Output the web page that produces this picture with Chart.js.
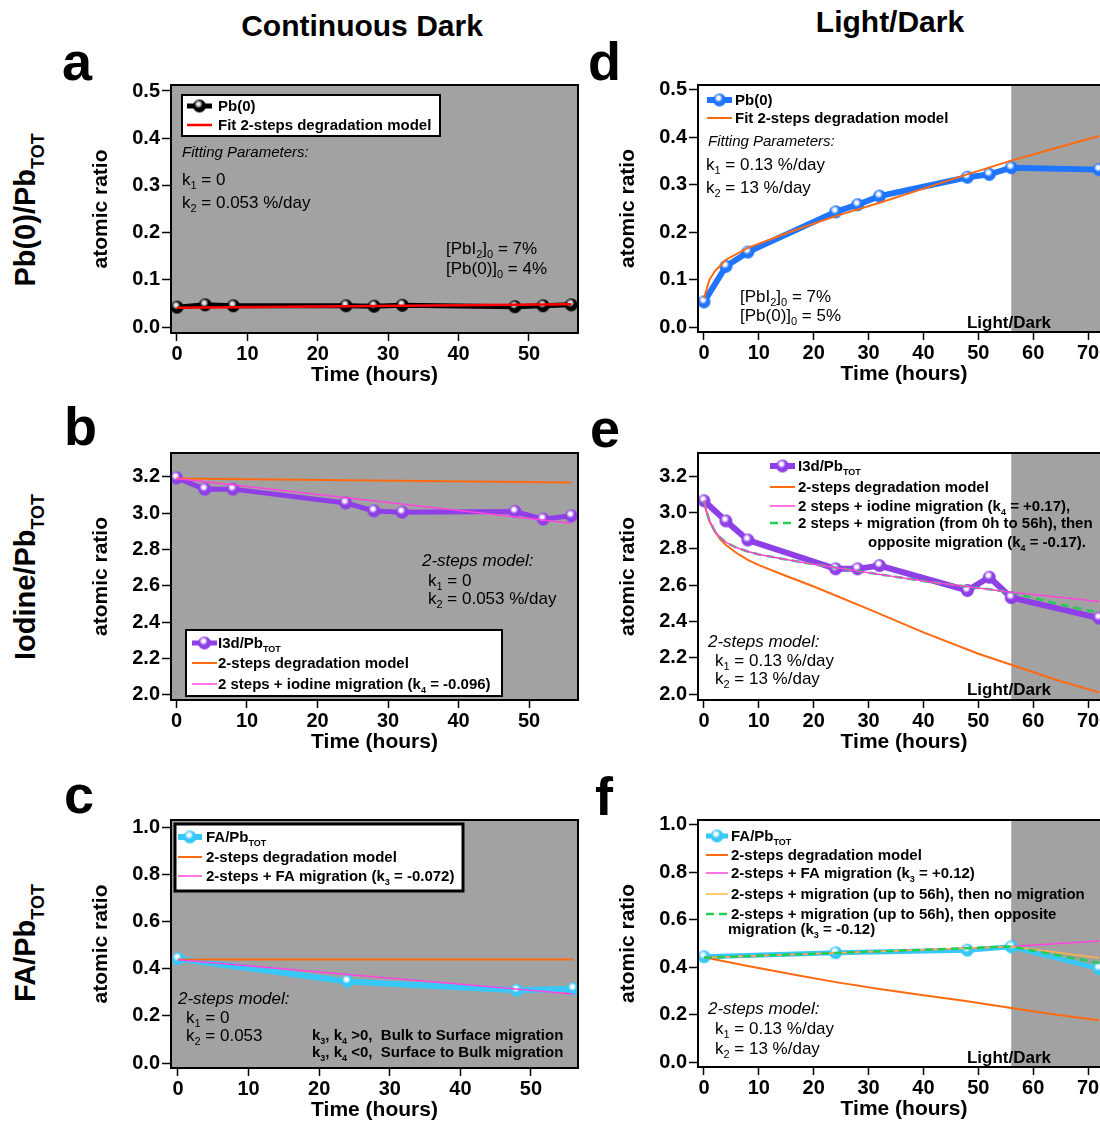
<!DOCTYPE html>
<html>
<head>
<meta charset="utf-8">
<script src="https://cdn.jsdelivr.net/npm/chart.js@4.4.1/dist/chart.umd.min.js"></script>
<style>
html, body { margin: 0; padding: 0; background: #fff; overflow: hidden; }
#page { position: relative; width: 1100px; height: 1124px; overflow: hidden; font-family: "Liberation Sans", Arial, Helvetica, sans-serif; color: #000; }
.panel { position: absolute; }
.lbl { position: absolute; font-weight: bold; white-space: nowrap; line-height: 1; }
.head { font-size: 30px; transform: translateX(-50%); }
.letter { font-size: 54px; }
.row { font-size: 29px; transform: translate(-50%, -50%) rotate(-90deg); }
.row sub { font-size: 62%; vertical-align: -0.55em; line-height: 0; }
</style>
</head>
<body>
<div id="page">
  <div class="lbl head" style="left:362px;top:11px">Continuous Dark</div>
  <div class="lbl head" style="left:890px;top:7px">Light/Dark</div>
  <div class="lbl letter" style="left:62px;top:34px">a</div>
  <div class="lbl letter" style="left:588px;top:34px">d</div>
  <div class="lbl letter" style="left:64px;top:399px">b</div>
  <div class="lbl letter" style="left:590px;top:401px">e</div>
  <div class="lbl letter" style="left:64px;top:767px">c</div>
  <div class="lbl letter" style="left:595px;top:769px">f</div>
  <div class="lbl row" style="left:25px;top:210px">Pb(0)/Pb<sub>TOT</sub></div>
  <div class="lbl row" style="left:25px;top:577px">Iodine/Pb<sub>TOT</sub></div>
  <div class="lbl row" style="left:25px;top:943px">FA/Pb<sub>TOT</sub></div>
</div>
<script>
var FONT = '"Liberation Sans", Arial, Helvetica, sans-serif';
var GRAY = '#a2a2a2';

// tick values
var X_TICKS_DARK = [0, 10, 20, 30, 40, 50];
var X_TICKS_LD = [0, 10, 20, 30, 40, 50, 60, 70];
var Y_TICKS_PB = [0, 0.1, 0.2, 0.3, 0.4, 0.5];
var Y_TICKS_I = [2.0, 2.2, 2.4, 2.6, 2.8, 3.0, 3.2];
var Y_TICKS_FA = [0, 0.2, 0.4, 0.6, 0.8, 1.0];

// a: Pb(0), continuous dark
var TIME_A = [0, 4, 8, 24, 28, 32, 48, 52, 56];
var PB0_DARK = [0.042, 0.047, 0.045, 0.045, 0.044, 0.046, 0.043, 0.045, 0.047];
var FIT_TIME_A = [0, 56];
var PB0_DARK_FIT = [0.041, 0.048];

// b: I3d/Pb, continuous dark
var TIME_B = [0, 4, 8, 24, 28, 32, 48, 52, 56];
var I3D_DARK = [3.195, 3.133, 3.133, 3.057, 3.013, 3.006, 3.010, 2.968, 2.986];
var FIT_TIME_B = [0, 56];
var I3D_DARK_DEG = [3.192, 3.170];
var I3D_DARK_MIG = [3.192, 2.945];

// c: FA/Pb, continuous dark
var TIME_C = [0, 24, 48, 56];
var FA_DARK = [0.442, 0.346, 0.308, 0.315];
var FIT_TIME_C = [0, 56];
var FA_DARK_DEG = [0.439, 0.439];
var FA_DARK_MIG = [0.438, 0.293];

// d: Pb(0), light/dark
var TIME_D = [0, 4, 8, 24, 28, 32, 48, 52, 56, 72];
var PB0_LD = [0.053, 0.128, 0.158, 0.243, 0.258, 0.276, 0.316, 0.322, 0.336, 0.332];
var FIT_TIME_D = [0, 1, 2, 4, 8, 16, 24, 32, 40, 48, 56, 64, 72];
var PB0_LD_FIT = [0.061, 0.100, 0.118, 0.142, 0.167, 0.202, 0.234, 0.262, 0.292, 0.322, 0.351, 0.377, 0.403];

// e: I3d/Pb, light/dark
var TIME_E = [0, 4, 8, 24, 28, 32, 48, 52, 56, 72];
var I3D_LD = [3.064, 2.953, 2.848, 2.689, 2.689, 2.707, 2.570, 2.643, 2.531, 2.418];
var FIT_TIME_E = [0, 0.5, 1, 2, 3, 4, 6, 8, 10, 15, 20, 30, 40, 50, 56, 64, 72];
var I3D_LD_DEG = [3.064, 3.000, 2.950, 2.895, 2.850, 2.820, 2.775, 2.738, 2.710, 2.650, 2.592, 2.467, 2.339, 2.222, 2.161, 2.080, 2.009];
var I3D_LD_MIG = [3.064, 3.000, 2.955, 2.895, 2.860, 2.835, 2.805, 2.785, 2.768, 2.740, 2.715, 2.668, 2.622, 2.584, 2.560, 2.535, 2.510];
var I3D_LD_OPP = [3.064, 3.000, 2.955, 2.895, 2.860, 2.835, 2.805, 2.785, 2.768, 2.740, 2.715, 2.668, 2.622, 2.584, 2.560, 2.500, 2.447];

// f: FA/Pb, light/dark
var TIME_F = [0, 24, 48, 56, 72];
var FA_LD = [0.444, 0.461, 0.472, 0.486, 0.394];
var FIT_TIME_F = [0, 8, 16, 24, 32, 40, 48, 56, 64, 72];
var FA_LD_DEG = [0.442, 0.405, 0.370, 0.337, 0.308, 0.282, 0.256, 0.228, 0.200, 0.176];
var MIG_TIME_F = [0, 56, 72];
var FA_LD_MIG = [0.440, 0.487, 0.511];
var FA_LD_NOMIG = [0.440, 0.487, 0.439];
var FA_LD_OPP = [0.440, 0.487, 0.418];

function pts(xs, ys) {
  return xs.map(function (x, i) { return { x: x, y: ys[i] }; });
}

function makeSphere(color, glow, r) {
  var s = Math.ceil(r * 2) + 2;
  var c = document.createElement('canvas');
  c.width = s; c.height = s;
  var g = c.getContext('2d');
  var m = s / 2;
  g.beginPath(); g.arc(m, m, r, 0, Math.PI * 2);
  g.fillStyle = color; g.fill();
  var hx = m - r * 0.15, hy = m - r * 0.3;
  var grd = g.createRadialGradient(hx, hy, 0, hx, hy, r * 0.65);
  grd.addColorStop(0, glow);
  grd.addColorStop(0.35, glow);
  grd.addColorStop(1, 'rgba(255,255,255,0)');
  g.beginPath(); g.arc(m, m, r, 0, Math.PI * 2);
  g.fillStyle = grd; g.fill();
  return c;
}

function markerSet(label, xs, ys, color, glow, width) {
  return {
    label: label, data: pts(xs, ys), borderColor: color, backgroundColor: color,
    borderWidth: width, pointStyle: makeSphere(color, glow, 6.5), pointRadius: 7, order: 9,
  };
}

function lineSet(label, xs, ys, color, width, order, dash) {
  return {
    label: label, data: pts(xs, ys), borderColor: color, borderWidth: width,
    borderDash: dash || [], pointRadius: 0, order: order,
  };
}

// text with _{subscript} markup, y is the visual middle of capitals
function drawRich(ctx, str, x, y, size, style, align) {
  var parts = str.split(/(_\{[^}]*\})/).filter(function (p) { return p; });
  var base = y + size * 0.36;
  function fontOf(sub) { return style + ' ' + (sub ? Math.round(size * 0.62) : size) + 'px ' + FONT; }
  var w = 0;
  parts.forEach(function (p) {
    var sub = p.indexOf('_{') === 0;
    ctx.font = fontOf(sub);
    w += ctx.measureText(sub ? p.slice(2, -1) : p).width;
  });
  var cx = align === 'center' ? x - w / 2 : x;
  ctx.textAlign = 'left';
  ctx.textBaseline = 'alphabetic';
  parts.forEach(function (p) {
    var sub = p.indexOf('_{') === 0;
    var t = sub ? p.slice(2, -1) : p;
    ctx.font = fontOf(sub);
    ctx.fillText(t, cx, sub ? base + size * 0.24 : base);
    cx += ctx.measureText(t).width;
  });
}

function decor(cfg, ox, oy) {
  return {
    id: 'decor',
    beforeDatasetsDraw: function (chart) {
      var ctx = chart.ctx, a = chart.chartArea;
      var x0 = cfg.shadeFrom == null ? a.left : chart.scales.x.getPixelForValue(cfg.shadeFrom);
      ctx.save();
      ctx.fillStyle = GRAY;
      ctx.fillRect(x0, a.top, a.right - x0, a.bottom - a.top);
      ctx.restore();
    },
    afterDraw: function (chart) {
      var ctx = chart.ctx, a = chart.chartArea, lg = cfg.legend;
      ctx.save();
      ctx.strokeStyle = '#000';
      ctx.lineWidth = 2;
      ctx.strokeRect(a.left, a.top, a.right - a.left, a.bottom - a.top);
      ctx.translate(-ox, -oy);
      if (lg.box) {
        var b = lg.box;
        ctx.fillStyle = '#fff';
        ctx.fillRect(b[0], b[1], b[2] - b[0], b[3] - b[1]);
        ctx.lineWidth = lg.border;
        ctx.strokeRect(b[0], b[1], b[2] - b[0], b[3] - b[1]);
      }
      lg.rows.forEach(function (row) {
        var ds = chart.data.datasets[row.ds];
        ctx.strokeStyle = ds.borderColor;
        ctx.lineWidth = ds.borderWidth;
        ctx.setLineDash(ds.borderDash || []);
        ctx.beginPath();
        ctx.moveTo(lg.x0, row.y);
        ctx.lineTo(lg.x1, row.y);
        ctx.stroke();
        ctx.setLineDash([]);
        if (ds.pointStyle instanceof HTMLCanvasElement) {
          var im = ds.pointStyle;
          ctx.drawImage(im, (lg.x0 + lg.x1) / 2 - im.width / 2, row.y - im.height / 2);
        }
        var lines = ds.label.split('\n');
        ctx.fillStyle = '#000';
        drawRich(ctx, lines[0], lg.tx, row.y, 15, 'bold');
        if (lines[1]) drawRich(ctx, lines[1], row.x2, row.y2, 15, 'bold');
      });
      ctx.fillStyle = '#000';
      cfg.notes.forEach(function (n) {
        drawRich(ctx, n[0], n[1], n[2], n[4], n[3], n[5]);
      });
      ctx.restore();
    },
  };
}

var PANELS = [
  {
    plot: [171, 85, 578, 333], x: [-0.85, 56.96], y: [-0.0127, 0.5127],
    xTicks: X_TICKS_DARK, yTicks: Y_TICKS_PB, shadeFrom: null,
    datasets: [
      markerSet('Pb(0)', TIME_A, PB0_DARK, '#000000', '#e8e8e8', 5),
      lineSet('Fit 2-steps degradation model', FIT_TIME_A, PB0_DARK_FIT, '#ff0000', 2.5, 1),
    ],
    legend: { box: [182, 95, 440, 136], border: 2, x0: 187, x1: 212, tx: 218, rows: [{ ds: 0, y: 106 }, { ds: 1, y: 125 }] },
    notes: [
      ['Fitting Parameters:', 182, 152, 'italic', 15],
      ['k_{1} = 0', 182, 179, 'normal', 17],
      ['k_{2} = 0.053 %/day', 182, 202, 'normal', 17],
      ['[PbI_{2}]_{0} = 7%', 446, 248, 'normal', 17],
      ['[Pb(0)]_{0} = 4%', 446, 268, 'normal', 17],
    ],
  },
  {
    plot: [171, 453, 578, 700], x: [-0.78, 56.95], y: [1.972, 3.332],
    xTicks: X_TICKS_DARK, yTicks: Y_TICKS_I, shadeFrom: null,
    datasets: [
      markerSet('I3d/Pb_{TOT}', TIME_B, I3D_DARK, '#8e3fe6', '#ffffff', 5),
      lineSet('2-steps degradation model', FIT_TIME_B, I3D_DARK_DEG, '#ff6a10', 2, 2),
      lineSet('2 steps + iodine migration (k_{4} = -0.096)', FIT_TIME_B, I3D_DARK_MIG, '#ff44dd', 1.5, 1),
    ],
    legend: { box: [186, 630, 502, 696], border: 2, x0: 192, x1: 217, tx: 218, rows: [{ ds: 0, y: 643 }, { ds: 1, y: 663 }, { ds: 2, y: 684 }] },
    notes: [
      ['2-steps model:', 422, 560, 'italic', 17],
      ['k_{1} = 0', 428, 580, 'normal', 17],
      ['k_{2} = 0.053 %/day', 428, 598, 'normal', 17],
    ],
  },
  {
    plot: [171, 820, 578, 1068], x: [-0.99, 56.66], y: [-0.021, 1.03],
    xTicks: X_TICKS_DARK, yTicks: Y_TICKS_FA, shadeFrom: null,
    datasets: [
      markerSet('FA/Pb_{TOT}', TIME_C, FA_DARK, '#38c8f8', '#ffffff', 6),
      lineSet('2-steps degradation model', FIT_TIME_C, FA_DARK_DEG, '#ff6a10', 2, 2),
      lineSet('2-steps + FA migration (k_{3} = -0.072)', FIT_TIME_C, FA_DARK_MIG, '#ff44dd', 1.5, 1),
    ],
    legend: { box: [175, 824, 463, 891], border: 3, x0: 178, x1: 202, tx: 206, rows: [{ ds: 0, y: 837 }, { ds: 1, y: 857 }, { ds: 2, y: 876 }] },
    notes: [
      ['2-steps model:', 178, 998, 'italic', 17],
      ['k_{1} = 0', 186, 1017, 'normal', 17],
      ['k_{2} = 0.053', 186, 1035, 'normal', 17],
      ['k_{3}, k_{4} >0,  Bulk to Surface migration', 312, 1035, 'bold', 15],
      ['k_{3}, k_{4} <0,  Surface to Bulk migration', 312, 1052, 'bold', 15],
    ],
  },
  {
    plot: [698, 85, 1110, 332], x: [-1.09, 74], y: [-0.0105, 0.5105],
    xTicks: X_TICKS_LD, yTicks: Y_TICKS_PB, shadeFrom: 56,
    datasets: [
      markerSet('Pb(0)', TIME_D, PB0_LD, '#1f75fe', '#ffffff', 6),
      lineSet('Fit 2-steps degradation model', FIT_TIME_D, PB0_LD_FIT, '#ff6a10', 2, 1),
    ],
    legend: { box: null, x0: 707, x1: 732, tx: 735, rows: [{ ds: 0, y: 100 }, { ds: 1, y: 118 }] },
    notes: [
      ['Fitting Parameters:', 708, 141, 'italic', 15],
      ['k_{1} = 0.13 %/day', 706, 164, 'normal', 17],
      ['k_{2} = 13 %/day', 706, 187, 'normal', 17],
      ['[PbI_{2}]_{0} = 7%', 740, 296, 'normal', 17],
      ['[Pb(0)]_{0} = 5%', 740, 315, 'normal', 17],
      ['Light/Dark', 1009, 322, 'bold', 17, 'center'],
    ],
  },
  {
    plot: [698, 453, 1110, 700], x: [-1.09, 74], y: [1.967, 3.327],
    xTicks: X_TICKS_LD, yTicks: Y_TICKS_I, shadeFrom: 56,
    datasets: [
      markerSet('I3d/Pb_{TOT}', TIME_E, I3D_LD, '#8e3fe6', '#ffffff', 6),
      lineSet('2-steps degradation model', FIT_TIME_E, I3D_LD_DEG, '#ff6a10', 2, 3),
      lineSet('2 steps + iodine migration (k_{4} = +0.17),', FIT_TIME_E, I3D_LD_MIG, '#ff44dd', 1.5, 1),
      lineSet('2 steps + migration (from 0h to 56h), then\nopposite migration (k_{4} = -0.17).', FIT_TIME_E, I3D_LD_OPP, '#22cc55', 2.5, 2, [8, 5]),
    ],
    legend: { box: null, x0: 770, x1: 795, tx: 798, rows: [{ ds: 0, y: 466 }, { ds: 1, y: 487 }, { ds: 2, y: 506 }, { ds: 3, y: 523, x2: 868, y2: 542 }] },
    notes: [
      ['2-steps model:', 708, 641, 'italic', 17],
      ['k_{1} = 0.13 %/day', 715, 660, 'normal', 17],
      ['k_{2} = 13 %/day', 715, 678, 'normal', 17],
      ['Light/Dark', 1009, 689, 'bold', 17, 'center'],
    ],
  },
  {
    plot: [698, 820, 1110, 1067], x: [-1.09, 74], y: [-0.021, 1.021],
    xTicks: X_TICKS_LD, yTicks: Y_TICKS_FA, shadeFrom: 56,
    datasets: [
      markerSet('FA/Pb_{TOT}', TIME_F, FA_LD, '#38c8f8', '#ffffff', 5),
      lineSet('2-steps degradation model', FIT_TIME_F, FA_LD_DEG, '#ff6a10', 2, 4),
      lineSet('2-steps + FA migration (k_{3} = +0.12)', MIG_TIME_F, FA_LD_MIG, '#ff44dd', 1.5, 3),
      lineSet('2-steps + migration (up to 56h), then no migration', MIG_TIME_F, FA_LD_NOMIG, '#ffb347', 1.5, 2),
      lineSet('2-steps + migration (up to 56h), then opposite\nmigration (k_{3} = -0.12)', MIG_TIME_F, FA_LD_OPP, '#22cc55', 2.5, 1, [8, 5]),
    ],
    legend: { box: null, x0: 706, x1: 728, tx: 731, rows: [{ ds: 0, y: 836 }, { ds: 1, y: 855 }, { ds: 2, y: 873 }, { ds: 3, y: 894 }, { ds: 4, y: 914, x2: 728, y2: 929 }] },
    notes: [
      ['2-steps model:', 708, 1008, 'italic', 17],
      ['k_{1} = 0.13 %/day', 715, 1028, 'normal', 17],
      ['k_{2} = 13 %/day', 715, 1048, 'normal', 17],
      ['Light/Dark', 1009, 1057, 'bold', 17, 'center'],
    ],
  },
];

var Y_AXIS_W = 82;
var X_AXIS_H = 55;
var TOP_PAD = 14;

function makePanel(cfg) {
  var p = cfg.plot;
  var left = p[0] - Y_AXIS_W, top = p[1] - TOP_PAD;
  var w = p[2] - p[0] + Y_AXIS_W + 2, h = p[3] - p[1] + TOP_PAD + X_AXIS_H;
  var div = document.createElement('div');
  div.className = 'panel';
  div.style.left = left + 'px';
  div.style.top = top + 'px';
  div.style.width = w + 'px';
  div.style.height = h + 'px';
  var cv = document.createElement('canvas');
  cv.width = w; cv.height = h;
  cv.style.width = w + 'px'; cv.style.height = h + 'px';
  div.appendChild(cv);
  document.getElementById('page').appendChild(div);

  var tickFont = { family: FONT, size: 20, weight: 'bold' };
  var titleFont = { family: FONT, size: 21, weight: 'bold' };
  return new Chart(cv.getContext('2d'), {
    type: 'line',
    data: { datasets: cfg.datasets },
    options: {
      responsive: false,
      animation: false,
      devicePixelRatio: 1,
      events: [],
      layout: { autoPadding: false, padding: { top: TOP_PAD, right: 2, left: 0, bottom: 0 } },
      elements: { line: { tension: 0 } },
      plugins: { legend: { display: false }, tooltip: { enabled: false } },
      scales: {
        x: {
          type: 'linear', min: cfg.x[0], max: cfg.x[1],
          afterBuildTicks: function (s) { s.ticks = cfg.xTicks.map(function (v) { return { value: v }; }); },
          afterFit: function (s) { s.height = X_AXIS_H; s.paddingLeft = 0; s.paddingRight = 0; },
          grid: { display: true, drawOnChartArea: false, drawTicks: true, tickLength: 8, tickWidth: 1.5, color: '#000' },
          border: { display: true, color: '#000', width: 2 },
          ticks: { color: '#000', font: tickFont, padding: 1, maxRotation: 0, autoSkip: false },
          title: { display: true, text: 'Time (hours)', color: '#000', font: titleFont, padding: 0 },
        },
        y: {
          type: 'linear', min: cfg.y[0], max: cfg.y[1],
          afterBuildTicks: function (s) { s.ticks = cfg.yTicks.map(function (v) { return { value: v }; }); },
          afterFit: function (s) { s.width = Y_AXIS_W; s.paddingTop = 0; s.paddingBottom = 0; },
          grid: { display: true, drawOnChartArea: false, drawTicks: true, tickLength: 9, tickWidth: 1.5, color: '#000' },
          border: { display: true, color: '#000', width: 2 },
          ticks: { color: '#000', font: tickFont, padding: 2, autoSkip: false, callback: function (v) { return Number(v).toFixed(1); } },
          title: { display: true, text: 'atomic ratio', color: '#000', font: titleFont, padding: 0 },
        },
      },
    },
    plugins: [decor(cfg, left, top)],
  });
}

PANELS.forEach(makePanel);
</script>
</body>
</html>
